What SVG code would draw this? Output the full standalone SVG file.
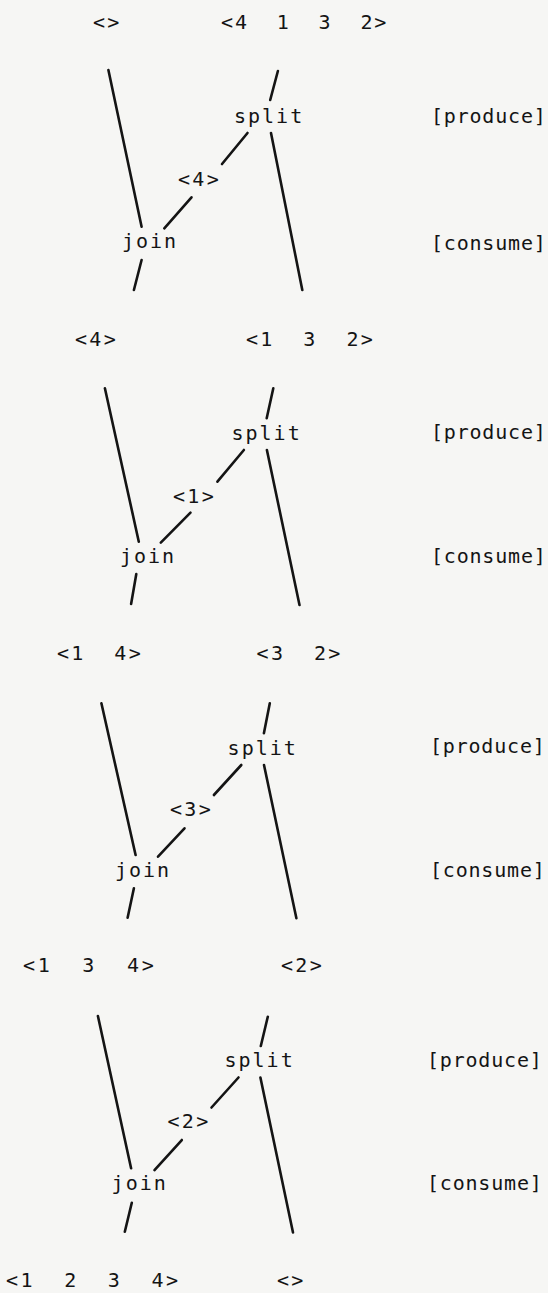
<svg xmlns="http://www.w3.org/2000/svg" width="548" height="1293" viewBox="0 0 548 1293">
<style>
  text { font-family: "DejaVu Sans Mono", "Liberation Mono", monospace; font-size: 20px; fill: #141414; white-space: pre; }
  .lst { letter-spacing: 2.3px; }
  .lbl { letter-spacing: 2px; }
  .act { letter-spacing: 0.8px; }
  .conn line { stroke: #141414; stroke-width: 2.6; stroke-linecap: round; }
</style>
<rect width="548" height="1293" fill="#f6f6f4"/>

<g id="connectors" class="conn">
  <!-- panel 1 -->
  <line x1="108.4" y1="70" x2="141.6" y2="226.7"/>
  <line x1="277.9" y1="71" x2="270.2" y2="100"/>
  <line x1="271" y1="133" x2="302.3" y2="290"/>
  <line x1="247.5" y1="133" x2="222" y2="164"/>
  <line x1="191.5" y1="197.3" x2="164.3" y2="228.3"/>
  <line x1="141.6" y1="260" x2="133.9" y2="290"/>
  <!-- panel 2 -->
  <line x1="104.9" y1="388.3" x2="138.8" y2="541.7"/>
  <line x1="273.3" y1="388.3" x2="266.7" y2="418.3"/>
  <line x1="266.9" y1="450" x2="299.5" y2="605"/>
  <line x1="243.9" y1="450" x2="217.4" y2="481.7"/>
  <line x1="190.5" y1="512.7" x2="160.8" y2="542.7"/>
  <line x1="136.3" y1="574" x2="131.1" y2="604"/>
  <!-- panel 3 -->
  <line x1="101.4" y1="703.3" x2="135.6" y2="855"/>
  <line x1="264" y1="765" x2="296.4" y2="918.3"/>
  <line x1="269.8" y1="703.3" x2="263.9" y2="733.3"/>
  <line x1="241.3" y1="765" x2="213.9" y2="795"/>
  <line x1="184.5" y1="828.3" x2="158" y2="856.7"/>
  <line x1="133.9" y1="888.3" x2="127.6" y2="917.7"/>
  <!-- panel 4 -->
  <line x1="97.9" y1="1016" x2="131.1" y2="1168.3"/>
  <line x1="267.8" y1="1016.7" x2="260.8" y2="1046"/>
  <line x1="260.4" y1="1077.5" x2="293" y2="1232.5"/>
  <line x1="238.5" y1="1077.5" x2="211.5" y2="1107.5"/>
  <line x1="181.8" y1="1140" x2="154.5" y2="1170"/>
  <line x1="131.8" y1="1202.7" x2="124.8" y2="1231.7"/>
</g>

<!-- panel 1 -->
<g id="p1-left-list"><text class="lst" x="93" y="29">&lt;&gt;</text></g>
<g id="p1-right-list"><text class="lst" x="221" y="29" style="letter-spacing:1.9px">&lt;4  1  3  2&gt;</text></g>
<g id="p1-split"><text class="lbl" x="234" y="123">split</text></g>
<g id="p1-item"><text class="lst" x="178" y="186">&lt;4&gt;</text></g>
<g id="p1-join"><text class="lbl" x="122" y="248">join</text></g>
<g id="p1-produce"><text class="act" x="431" y="123">[produce]</text></g>
<g id="p1-consume"><text class="act" x="431" y="250">[consume]</text></g>

<!-- panel 2 -->
<g id="p2-left-list"><text class="lst" x="75" y="345.5">&lt;4&gt;</text></g>
<g id="p2-right-list"><text class="lst" x="246" y="345.5">&lt;1  3  2&gt;</text></g>
<g id="p2-split"><text class="lbl" x="231.5" y="440">split</text></g>
<g id="p2-item"><text class="lst" x="173" y="503">&lt;1&gt;</text></g>
<g id="p2-join"><text class="lbl" x="120" y="563">join</text></g>
<g id="p2-produce"><text class="act" x="431" y="439">[produce]</text></g>
<g id="p2-consume"><text class="act" x="431" y="563">[consume]</text></g>

<!-- panel 3 -->
<g id="p3-left-list"><text class="lst" x="57" y="660">&lt;1  4&gt;</text></g>
<g id="p3-right-list"><text class="lst" x="256.6" y="660">&lt;3  2&gt;</text></g>
<g id="p3-split"><text class="lbl" x="227.6" y="755">split</text></g>
<g id="p3-item"><text class="lst" x="170" y="816">&lt;3&gt;</text></g>
<g id="p3-join"><text class="lbl" x="115" y="877">join</text></g>
<g id="p3-produce"><text class="act" x="430" y="753">[produce]</text></g>
<g id="p3-consume"><text class="act" x="430" y="877">[consume]</text></g>

<!-- panel 4 -->
<g id="p4-left-list"><text class="lst" x="23" y="972" style="letter-spacing:2.8px">&lt;1  3  4&gt;</text></g>
<g id="p4-right-list"><text class="lst" x="281" y="972">&lt;2&gt;</text></g>
<g id="p4-split"><text class="lbl" x="224.5" y="1067">split</text></g>
<g id="p4-item"><text class="lst" x="167.5" y="1128">&lt;2&gt;</text></g>
<g id="p4-join"><text class="lbl" x="111.6" y="1190">join</text></g>
<g id="p4-produce"><text class="act" x="427" y="1067">[produce]</text></g>
<g id="p4-consume"><text class="act" x="427" y="1190">[consume]</text></g>

<!-- result -->
<g id="result-left-list"><text class="lst" x="6" y="1287" style="letter-spacing:2.5px">&lt;1  2  3  4&gt;</text></g>
<g id="result-right-list"><text class="lst" x="277" y="1287">&lt;&gt;</text></g>
</svg>
